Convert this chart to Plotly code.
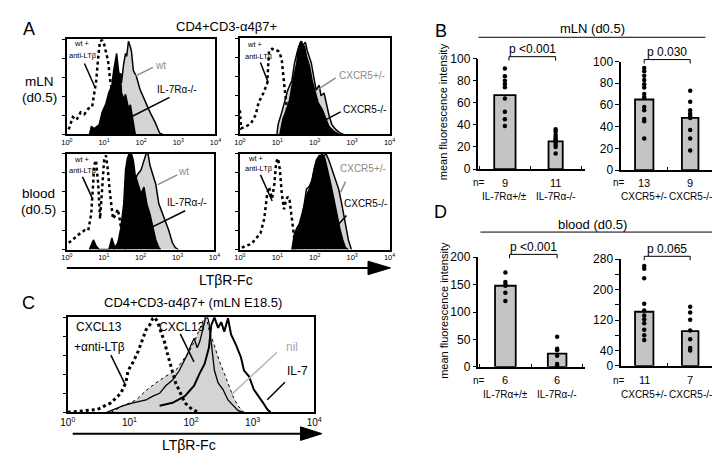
import plotly.graph_objects as go

W, H = 720, 453
FONT = "Liberation Sans, Arial, Helvetica, sans-serif"

# ---------------- data ----------------
DECADE_TICKS = [0, 1, 2, 3, 4]
DECADE_LABELS = ["10<sup>0</sup>", "10<sup>1</sup>", "10<sup>2</sup>", "10<sup>3</sup>", "10<sup>4</sup>"]
HIST_Y_TICKS = [0, 20, 40, 60, 80, 100]

# Panel A, mLN: wt+anti-LTb / IL-7Ra-/- / wt   (x = log10 LTbR-Fc, y = % of max)
a_mln_il7_iso_x = [0.05, 0.16, 0.26, 0.37, 0.47, 0.58, 0.68, 0.74, 0.79, 0.84, 0.89, 0.95, 1.0, 1.05, 1.11, 1.16, 1.21, 1.26, 1.34, 1.42]
a_mln_il7_iso_y = [5, 18, 15, 23, 21, 27, 29, 42, 56, 79, 98, 99, 95, 87, 77, 59, 44, 32, 18, 0]
a_mln_il7_ko_x = [0.61, 0.66, 0.74, 0.87, 0.95, 1.05, 1.13, 1.21, 1.26, 1.32, 1.34, 1.39, 1.45, 1.47, 1.53, 1.58, 1.61, 1.66, 1.71, 1.74, 1.79, 1.84]
a_mln_il7_ko_y = [0, 8, 6, 10, 23, 32, 44, 51, 67, 78, 85, 67, 57, 44, 37, 42, 37, 27, 31, 23, 10, 0]
a_mln_il7_wt_x = [0.92, 0.95, 1.05, 1.13, 1.26, 1.34, 1.45, 1.47, 1.53, 1.58, 1.61, 1.66, 1.71, 1.74, 1.79, 1.87, 1.97, 2.11, 2.24, 2.37, 2.5, 2.58]
a_mln_il7_wt_y = [0, 10, 23, 41, 47, 57, 64, 54, 74, 85, 82, 98, 92, 87, 67, 61, 47, 34, 23, 13, 1, 0]

# Panel A, mLN: wt+anti-LTb / CXCR5+/- / CXCR5-/-
a_mln_cx_iso_x = [0.0, 0.03, 0.16, 0.29, 0.42, 0.5, 0.63, 0.73, 0.76, 0.78, 0.86, 0.94, 1.02, 1.07, 1.12, 1.15, 1.2, 1.26, 1.28, 1.33]
a_mln_cx_iso_y = [25, 6, 8, 11, 20, 33, 43, 53, 74, 87, 89, 87, 87, 84, 77, 64, 46, 26, 13, 3]
a_mln_cx_het_x = [0.99, 1.02, 1.12, 1.2, 1.28, 1.39, 1.46, 1.54, 1.62, 1.65, 1.67, 1.75, 1.8, 1.91, 1.99, 2.04, 2.12, 2.17, 2.25, 2.3, 2.38, 2.46, 2.56, 2.69, 2.77]
a_mln_cx_het_y = [0, 10, 23, 36, 46, 56, 74, 87, 94, 97, 92, 96, 87, 74, 56, 46, 51, 40, 43, 33, 20, 10, 5, 1, 0]
a_mln_cx_ko_x = [1.07, 1.15, 1.25, 1.33, 1.41, 1.52, 1.57, 1.62, 1.67, 1.73, 1.78, 1.86, 1.93, 2.04, 2.09, 2.2, 2.3, 2.38, 2.51, 2.64]
a_mln_cx_ko_y = [0, 16, 26, 36, 54, 74, 91, 96, 94, 91, 81, 71, 56, 40, 33, 26, 16, 8, 3, 0]

# Panel A, blood: wt+anti-LTb / IL-7Ra-/- / wt
a_bl_il7_iso_x = [0.05, 0.16, 0.26, 0.37, 0.48, 0.58, 0.66, 0.72, 0.74, 0.79, 0.85, 0.9, 0.95, 1.01, 1.06, 1.11, 1.17, 1.25, 1.33, 1.38, 1.43, 1.48, 1.54, 1.59]
a_bl_il7_iso_y = [7, 10, 14, 17, 20, 20, 37, 73, 88, 93, 68, 32, 63, 93, 98, 83, 58, 32, 37, 42, 32, 17, 4, 0]
a_bl_il7_ko_x = [0.61, 0.72, 0.79, 0.87, 1.14, 1.22, 1.3, 1.38, 1.46, 1.54, 1.59, 1.64, 1.69, 1.75, 1.8, 1.85, 1.93, 2.01, 2.09, 2.17, 2.25, 2.33, 2.41, 2.49, 2.54]
a_bl_il7_ko_y = [0, 10, 4, 0, 0, 12, 2, 6, 22, 47, 83, 95, 100, 100, 93, 78, 68, 58, 65, 47, 37, 24, 10, 2, 0]
a_bl_il7_wt_x = [1.27, 1.38, 1.48, 1.59, 1.69, 1.8, 1.91, 2.01, 2.09, 2.15, 2.2, 2.25, 2.33, 2.41, 2.49, 2.6, 2.68, 2.76, 2.86, 2.94, 3.02]
a_bl_il7_wt_y = [0, 7, 17, 37, 58, 68, 78, 83, 93, 100, 100, 88, 78, 68, 48, 37, 27, 20, 7, 2, 0]

# Panel A, blood: wt+anti-LTb / CXCR5+/- / CXCR5-/-
a_bl_cx_iso_x = [0.05, 0.18, 0.31, 0.44, 0.55, 0.65, 0.73, 0.78, 0.86, 0.92, 0.97, 1.02, 1.07, 1.12, 1.18, 1.23, 1.28, 1.33, 1.39, 1.44, 1.49]
a_bl_cx_iso_y = [2, 4, 6, 12, 17, 32, 58, 65, 53, 68, 91, 95, 83, 58, 42, 51, 55, 51, 32, 12, 0]
a_bl_cx_het_x = [1.41, 1.52, 1.65, 1.78, 1.86, 1.93, 2.04, 2.12, 2.2, 2.3, 2.38, 2.46, 2.56, 2.64, 2.72, 2.82, 2.9, 2.98]
a_bl_cx_het_y = [0, 22, 29, 63, 66, 73, 93, 98, 95, 100, 93, 83, 73, 63, 48, 27, 10, 0]
a_bl_cx_ko_x = [1.39, 1.46, 1.59, 1.73, 1.8, 1.91, 1.99, 2.07, 2.15, 2.2, 2.27, 2.35, 2.43, 2.51, 2.59, 2.67, 2.75, 2.82, 2.9]
a_bl_cx_ko_y = [0, 17, 27, 48, 58, 68, 85, 93, 98, 100, 95, 83, 68, 53, 37, 22, 10, 2, 0]

# Panel C, mLN E18.5
c_cxcl13_ab_x = [0.0, 0.48, 0.7, 0.86, 0.94, 0.98, 1.06, 1.14, 1.22, 1.27, 1.33, 1.38, 1.41, 1.46, 1.51, 1.57, 1.62, 1.7, 1.75, 1.83, 1.9, 2.02, 2.13]
c_cxcl13_ab_y = [0, 3, 10, 20, 31, 44, 53, 64, 78, 87, 92, 99, 100, 95, 85, 74, 61, 44, 31, 20, 10, 3, 0]
c_nil_x = [0.7, 0.9, 1.11, 1.27, 1.43, 1.59, 1.75, 1.86, 1.97, 2.05, 2.1, 2.17, 2.22, 2.25, 2.3, 2.36, 2.41, 2.46, 2.54, 2.62, 2.68, 2.76, 2.86]
c_nil_y = [0, 7, 13, 23, 31, 38, 44, 54, 64, 74, 82, 92, 100, 99, 85, 74, 64, 54, 41, 28, 17, 7, 0]
c_cxcl13_x = [0.63, 0.75, 0.9, 1.06, 1.27, 1.38, 1.49, 1.59, 1.7, 1.81, 1.89, 1.94, 2.0, 2.05, 2.1, 2.14, 2.21, 2.25, 2.29, 2.33, 2.38, 2.44, 2.52, 2.6, 2.68, 2.76, 2.84]
c_cxcl13_y = [0, 3, 7, 10, 13, 17, 20, 28, 34, 44, 54, 61, 71, 78, 68, 74, 92, 104, 95, 71, 44, 31, 24, 13, 7, 2, 0]
c_il7_x = [1.49, 1.7, 1.9, 2.05, 2.14, 2.22, 2.29, 2.33, 2.38, 2.44, 2.49, 2.54, 2.6, 2.65, 2.73, 2.81, 2.86, 2.94, 3.02, 3.1, 3.17, 3.24, 3.29]
c_il7_y = [7, 10, 17, 28, 41, 51, 68, 92, 100, 89, 95, 85, 99, 82, 71, 58, 44, 38, 24, 17, 10, 3, 0]

# Panel B (mLN d0.5) and D (blood d0.5): mean fluorescence intensity
il7_groups = ["IL-7R\u03b1+/\u00b1", "IL-7R\u03b1-/-"]
cx_groups = ["CXCR5+/-", "CXCR5-/-"]

b_il7_n = [9, 11]
b_il7_mean = [67, 25]
b_il7_pts_wt = [91, 84, 80, 77, 74, 64, 52, 45, 39]
b_il7_pts_ko = [36, 34, 31, 29, 27, 26, 25, 24, 22, 20, 14]
b_cx_n = [13, 9]
b_cx_mean = [65, 48]
b_cx_pts_het = [94, 91, 87, 83, 79, 76, 70, 67, 58, 55, 47, 45, 29]
b_cx_pts_ko = [73, 63, 55, 52, 50, 48, 37, 29, 18]

d_il7_n = [6, 6]
d_il7_mean = [148, 24]
d_il7_pts_wt = [172, 155, 150, 148, 135, 120]
d_il7_pts_ko = [55, 33, 30, 20, 5, 2]
d_cx_n = [11, 7]
d_cx_mean = [142, 91]
d_cx_pts_het = [262, 255, 230, 163, 145, 132, 122, 112, 95, 80, 68]
d_cx_pts_ko = [155, 140, 121, 93, 70, 47, 40]

p_values = ["p <0.001", "p 0.030", "p <0.001", "p 0.065"]

# ---------------- helpers ----------------
def fx(x):
    return x / W

def fy(y):
    return 1 - y / H

def dx(a, b):
    return [a / W, b / W]

def dy(top, bottom):
    return [1 - bottom / H, 1 - top / H]

fig = go.Figure()
layout = dict(
    width=W, height=H, margin=dict(l=0, r=0, t=0, b=0),
    paper_bgcolor="white", plot_bgcolor="white", showlegend=False,
    font=dict(family=FONT, color="black"),
)
shapes = []
annos = []

def text(s, x, y, size, color="black", xanchor="center", angle=0):
    annos.append(dict(text=s, x=fx(x), y=fy(y), xref="paper", yref="paper",
                      showarrow=False, xanchor=xanchor, yanchor="middle",
                      font=dict(size=size, color=color, family=FONT), textangle=angle))

def seg(x0, y0, x1, y1, color="black", width=1.5):
    shapes.append(dict(type="line", xref="paper", yref="paper",
                       x0=fx(x0), y0=fy(y0), x1=fx(x1), y1=fy(y1),
                       line=dict(color=color, width=width)))

# ---------------- histogram panels ----------------
hist_boxes = [  # axis index, x0, x1, top, bottom, tick font size
    (1, 52, 204, 25, 123, 7.5),
    (2, 229, 382, 24, 123, 7.5),
    (3, 52, 203, 143, 242, 7.5),
    (4, 229, 382, 143, 242, 7.5),
    (5, 53, 305, 312, 410, 10),
]
for n, x0, x1, t, b, fs in hist_boxes:
    sfx = "" if n == 1 else str(n)
    layout["xaxis" + sfx] = dict(domain=dx(x0, x1), range=[0, 4], anchor="y" + sfx,
                                 tickvals=DECADE_TICKS, ticktext=DECADE_LABELS,
                                 tickfont=dict(size=fs, family=FONT), ticks="",
                                 showline=True, mirror=True, linecolor="black", linewidth=1.8,
                                 showgrid=False, zeroline=False)
    layout["yaxis" + sfx] = dict(domain=dy(t, b), range=[0, 100], anchor="x" + sfx,
                                 tickvals=HIST_Y_TICKS, showticklabels=False,
                                 ticks="outside", ticklen=3, tickcolor="black",
                                 showline=True, mirror=True, linecolor="black", linewidth=1.8,
                                 showgrid=False, zeroline=False)

def filled(x, y, ax, fill, line_color="black", lw=1.5, dash="solid"):
    sfx = "" if ax == 1 else str(ax)
    fig.add_trace(go.Scatter(x=x, y=y, xaxis="x" + sfx, yaxis="y" + sfx, mode="lines",
                             fill="tozeroy", fillcolor=fill,
                             line=dict(color=line_color, width=lw, dash=dash)))

def curve(x, y, ax, lw=2.5, dash="dot", color="black"):
    sfx = "" if ax == 1 else str(ax)
    fig.add_trace(go.Scatter(x=x, y=y, xaxis="x" + sfx, yaxis="y" + sfx, mode="lines",
                             line=dict(color=color, width=lw, dash=dash)))

GRAY = "#d4d4d4"
# A mLN IL-7R
filled(a_mln_il7_wt_x, a_mln_il7_wt_y, 1, GRAY)
filled(a_mln_il7_ko_x, a_mln_il7_ko_y, 1, "black")
curve(a_mln_il7_iso_x, a_mln_il7_iso_y, 1)
# A mLN CXCR5
filled(a_mln_cx_het_x, a_mln_cx_het_y, 2, GRAY)
filled(a_mln_cx_ko_x, a_mln_cx_ko_y, 2, "black")
curve(a_mln_cx_iso_x, a_mln_cx_iso_y, 2)
# A blood IL-7R
filled(a_bl_il7_wt_x, a_bl_il7_wt_y, 3, GRAY)
filled(a_bl_il7_ko_x, a_bl_il7_ko_y, 3, "black")
curve(a_bl_il7_iso_x, a_bl_il7_iso_y, 3)
# A blood CXCR5
filled(a_bl_cx_het_x, a_bl_cx_het_y, 4, GRAY)
filled(a_bl_cx_ko_x, a_bl_cx_ko_y, 4, "black")
curve(a_bl_cx_iso_x, a_bl_cx_iso_y, 4)
# C
filled(c_nil_x, c_nil_y, 5, GRAY, line_color="black", lw=1, dash="dot")
curve(c_cxcl13_x, c_cxcl13_y, 5, lw=1.3, dash="solid")
curve(c_il7_x, c_il7_y, 5, lw=2, dash="solid")
curve(c_cxcl13_ab_x, c_cxcl13_ab_y, 5, lw=3, dash="dot")

# ---------------- bar panels ----------------
bar_panels = [  # axis idx, groups, n, means, pts, x0, x1, top, bottom, ymax, tickvals, ticktext, xrange, widths
    (6, il7_groups, b_il7_n, b_il7_mean, [b_il7_pts_wt, b_il7_pts_ko], 473, 582, 45, 159, 100,
     [0, 20, 40, 60, 80, 100], ["0", "20", "40", "60", "80", "100"], [-0.52, 1.58], [0.42, 0.28]),
    (7, cx_groups, b_cx_n, b_cx_mean, [b_cx_pts_het, b_cx_pts_ko], 619, 713, 48, 160, 100,
     [0, 20, 40, 60, 80, 100], ["0", "20", "40", "60", "80", "100"], [-0.5, 1.5], [0.4, 0.36]),
    (8, il7_groups, d_il7_n, d_il7_mean, [d_il7_pts_wt, d_il7_pts_ko], 473, 582, 250, 363, 200,
     [0, 50, 100, 150, 200], ["0", "50", "100", "150", "200"], [-0.52, 1.54], [0.4, 0.36]),
    (9, cx_groups, d_cx_n, d_cx_mean, [d_cx_pts_het, d_cx_pts_ko], 619, 713, 252, 362, 280,
     [0, 40, 80, 120, 160, 200, 240, 280], ["0", "40", "", "120", "", "200", "", "280"], [-0.5, 1.5], [0.4, 0.36]),
]
for idx, (n, groups, ns, means, pts, x0, x1, t, b, ymax, tv, tt, xr, widths) in enumerate(bar_panels):
    sx, sy = "x%d" % n, "y%d" % n
    layout["xaxis%d" % n] = dict(domain=dx(x0, x1), type="category", range=xr, anchor=sy,
                                 showticklabels=False, ticks="inside", tickson="boundaries",
                                 ticklen=3, tickcolor="black",
                                 showline=True, linecolor="black", linewidth=1.5,
                                 showgrid=False, zeroline=False)
    layout["yaxis%d" % n] = dict(domain=dy(t, b), range=[0, ymax], anchor=sx,
                                 tickvals=tv, ticktext=tt, ticks="outside", ticklen=4,
                                 tickcolor="black", tickfont=dict(size=12, family=FONT),
                                 showline=True, linecolor="black", linewidth=1.5,
                                 showgrid=False, zeroline=False)
    fig.add_trace(go.Bar(x=groups, y=means, xaxis=sx, yaxis=sy, width=widths,
                         marker=dict(color="#c4c4c4", line=dict(color="black", width=1.8))))
    for g, p in zip(groups, pts):
        fig.add_trace(go.Scatter(x=[g] * len(p), y=p, xaxis=sx, yaxis=sy, mode="markers",
                                 marker=dict(color="black", size=4.5), cliponaxis=False))
    # significance bracket
    bt = t - 2 if n in (6, 7) else t - 3
    left = 0.08 if n in (6, 8) else 0
    shapes.append(dict(type="path", xref=sx, yref="paper",
                       path="M %s,%s L %s,%s L %s,%s L %s,%s" % (
                           left, fy(bt + 4), left, fy(bt), 1, fy(bt), 1, fy(bt + 4)),
                       line=dict(color="black", width=1)))
    annos.append(dict(text=p_values[idx], xref=sx, yref="paper", x=0.54 if n in (6, 8) else 0.5,
                      y=fy(bt - 8), showarrow=False, xanchor="center", yanchor="middle",
                      font=dict(size=12, family=FONT)))
    # n= row and group labels
    row_n = 173 if n in (6, 7) else 377
    row_g = 187 if n in (6, 7) else 392
    text("n=", x0 + 1 if n in (6, 8) else x0 - 2, row_n, 10)
    for g, cnt in zip(groups, ns):
        annos.append(dict(text=str(cnt), xref=sx, yref="paper", x=g, y=fy(row_n), showarrow=False,
                          xanchor="center", yanchor="middle", font=dict(size=11, family=FONT)))
        annos.append(dict(text=g, xref=sx, yref="paper", x=g, y=fy(row_g), showarrow=False,
                          xanchor="center", yanchor="middle", font=dict(size=10, family=FONT)))

# ---------------- text & decorations ----------------
text("A", 5, 14, 18, xanchor="left")
text("B", 426, 16, 18, xanchor="left")
text("C", 4, 297, 18, xanchor="left")
text("D", 425, 203, 18, xanchor="left")
text("CD4+CD3-\u03b14\u03b27+", 215, 12, 13)
text("CD4+CD3-\u03b14\u03b27+ (mLN E18.5)", 181, 297, 13)
text("mLN", 24, 69, 13.5)
text("(d0.5)", 24, 85, 13.5)
text("blood", 23, 184, 13.5)
text("(d0.5)", 23, 201, 13.5)
text("LT\u03b2R-Fc", 215, 273, 14)
text("LT\u03b2R-Fc", 177, 444, 14)
text("mLN (d0.5)", 590, 14, 13)
text("blood (d0.5)", 590, 216, 13)
text("mean fluorescence intensity", 437, 100, 11, angle=-90)
text("mean fluorescence intensity", 437, 305, 11, angle=-90)
seg(473, 23, 705, 23, width=1)
seg(475, 224, 716, 224, width=1)

# arrows
seg(52, 261, 364, 261, width=2)
shapes.append(dict(type="path", xref="paper", yref="paper",
                   path="M %f,%f L %f,%f L %f,%f Z" % (fx(360), fy(254), fx(383), fy(261), fx(360), fy(268)),
                   fillcolor="black", line=dict(color="black", width=1)))
seg(58, 432, 294, 432, width=2)
shapes.append(dict(type="path", xref="paper", yref="paper",
                   path="M %f,%f L %f,%f L %f,%f Z" % (fx(291), fy(425), fx(313), fy(432), fx(291), fy(439)),
                   fillcolor="black", line=dict(color="black", width=1)))

# histogram labels and pointers
G = "#8c8c8c"
text("wt +", 68, 29, 7.5); text("anti-LT\u03b2", 69, 42, 7.5)
seg(70, 50, 81, 75)
text("wt", 148, 52, 10, color=G); seg(122, 63, 140, 54, color=G)
text("IL-7R\u03b1-/-", 165, 77, 10); seg(118, 105, 157, 85)

text("wt +", 244, 30, 7.5); text("anti-LT\u03b2", 249, 43, 7.5)
seg(250, 49, 258, 70)
text("CXCR5+/-", 354, 62, 10, color=G); seg(310, 76, 327, 65, color=G)
text("CXCR5-/-", 356, 97, 10); seg(317, 108, 332, 100)

text("wt +", 68, 149, 7.5); text("anti-LT\u03b2", 69, 160, 7.5)
seg(68, 167, 78, 189)
text("wt", 171, 162, 10, color=G); seg(145, 175, 165, 165, color=G)
text("IL-7R\u03b1-/-", 175, 193, 10); seg(137, 220, 173, 202)

text("wt +", 245, 148, 7.5); text("anti-LT\u03b2", 249, 158, 7.5)
seg(250, 165, 262, 192)
text("CXCR5+/-", 355, 158, 10, color=G); seg(332, 183, 337, 172, color=G)
text("CXCR5-/-", 357, 195, 10); seg(328, 218, 338, 207)

text("CXCL13", 85, 322, 12); text("+\u03b1nti-LT\u03b2", 85, 343, 12)
seg(97, 351, 112, 382)
text("CXCL13", 170, 322, 12); seg(168, 329, 182, 358)
text("nil", 282, 343, 12, color="#a8a8a8"); seg(220, 392, 267, 348, color="#b8b8b8")
text("IL-7", 288, 367, 12); seg(257, 397, 275, 379)

layout["shapes"] = shapes
layout["annotations"] = annos
fig.update_layout(**layout)
fig.write_html("out.html")
